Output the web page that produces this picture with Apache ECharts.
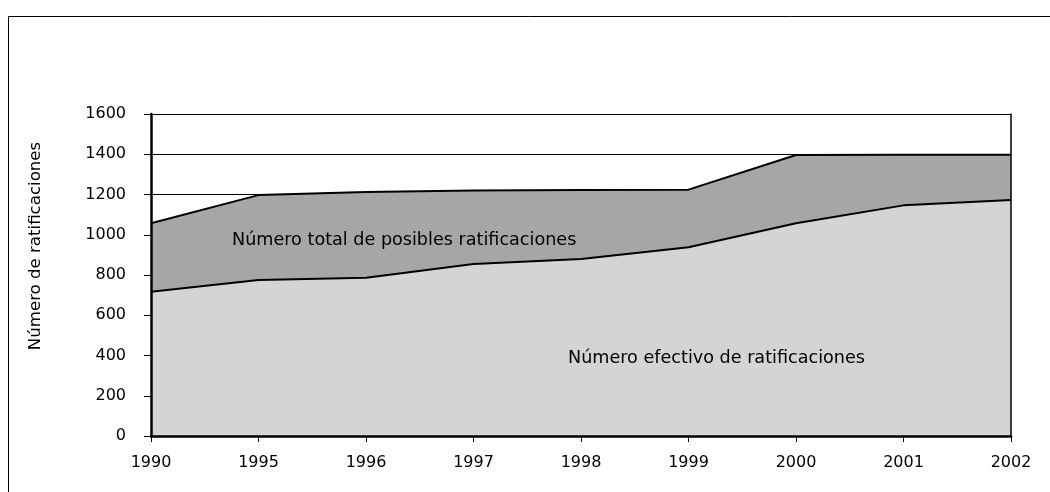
<!DOCTYPE html>
<html>
<head>
<meta charset="utf-8">
<script src="https://cdn.jsdelivr.net/npm/echarts@6/dist/echarts.min.js"></script>
<style>
html,body{margin:0;padding:0;background:#fff;}
#c{width:1050px;height:492px;}
</style>
</head>
<body>
<div id="c"></div>
<script>
const years = ['1990','1995','1996','1997','1998','1999','2000','2001','2002'];
const totalPosibles = [1057, 1197, 1212, 1220, 1222, 1224, 1396, 1398, 1398];
const efectivas = [717, 775, 786, 855, 880, 938, 1057, 1146, 1173];
const yTicks = [0, 200, 400, 600, 800, 1000, 1200, 1400, 1600];
const labelTotal = 'Número total de posibles ratificaciones';
const labelEfectivo = 'Número efectivo de ratificaciones';
const axisTitle = 'Número de ratificaciones';

const chart = echarts.init(document.getElementById('c'), null, {renderer: 'canvas'});
const font = '"DejaVu Sans", sans-serif';
chart.setOption({
  animation: false,
  backgroundColor: '#fff',
  grid: {left: 151, right: 39, top: 114, bottom: 56, containLabel: false},
  xAxis: {
    type: 'category', data: years, boundaryGap: false, z: 10,
    axisLine: {lineStyle: {color: '#000', width: 2.5}},
    axisTick: {show: true, inside: false, length: 6, lineStyle: {color: '#000', width: 1}},
    axisLabel: {color: '#000', fontFamily: font, fontSize: 16, margin: 19},
    splitLine: {show: false}
  },
  yAxis: [{
    type: 'value', min: 0, max: 1600, interval: 200, z: 10,
    axisLine: {show: true, lineStyle: {color: '#000', width: 2.5}},
    axisTick: {show: true, inside: false, length: 7, lineStyle: {color: '#000', width: 1}},
    axisLabel: {color: '#000', fontFamily: font, fontSize: 16, margin: 25,
      formatter: v => yTicks.includes(v) ? String(v) : ''},
    splitLine: {show: false}
  }, {
    type: 'value', min: 0, max: 1600, interval: 200, position: 'right', z: 10,
    axisLine: {show: true, lineStyle: {color: '#000', width: 1.5}},
    axisTick: {show: false}, axisLabel: {show: false}, splitLine: {show: false}
  }, {
    type: 'value', min: 0, max: 1600, interval: 200, position: 'left', z: 0,
    axisLine: {show: false}, axisTick: {show: false}, axisLabel: {show: false},
    splitLine: {show: true, lineStyle: {color: '#000', width: 1}}
  }],
  series: [{
    name: labelTotal, type: 'line', data: totalPosibles, symbol: 'none', z: 2,
    lineStyle: {color: '#000', width: 2},
    areaStyle: {color: '#a6a6a6', opacity: 1, origin: 'start'}
  }, {
    name: labelEfectivo, type: 'line', data: efectivas, symbol: 'none', z: 3,
    lineStyle: {color: '#000', width: 2},
    areaStyle: {color: '#d4d4d4', opacity: 1, origin: 'start'}
  }],
  graphic: [
    {type: 'rect', left: 6, top: 14, shape: {width: 1100, height: 600}, z: 100,
     style: {fill: 'none', stroke: '#000', lineWidth: 1}},
    {type: 'text', x: 36, y: 246, rotation: Math.PI / 2, z: 100,
     style: {text: axisTitle, fill: '#000', font: '16.6px ' + font, align: 'center', verticalAlign: 'middle'}},
    {type: 'text', x: 232, y: 240, z: 100,
     style: {text: labelTotal, fill: '#000', font: '17.6px ' + font, align: 'left', verticalAlign: 'middle'}},
    {type: 'text', x: 568, y: 358, z: 100,
     style: {text: labelEfectivo, fill: '#000', font: '17.6px ' + font, align: 'left', verticalAlign: 'middle'}}
  ]
});
</script>
</body>
</html>
